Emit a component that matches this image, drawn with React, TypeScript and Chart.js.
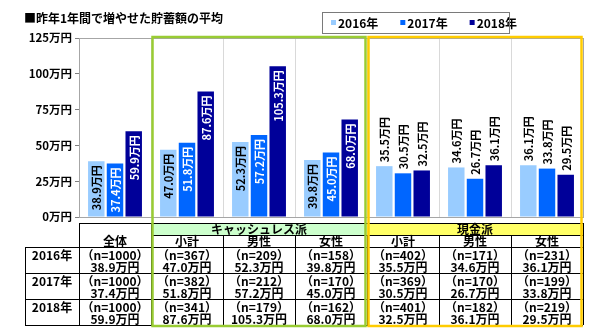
import { useEffect, useRef } from 'react';
import { Chart, registerables } from 'chart.js';

Chart.register(...registerables);

const titleText = '■昨年1年間で増やせた貯蓄額の平均';
const categories = ['全体', '小計', '男性', '女性', '小計', '男性', '女性'];
const groupOf = ['', 'キャッシュレス派', 'キャッシュレス派', 'キャッシュレス派', '現金派', '現金派', '現金派'];
const seriesNames = ['2016年', '2017年', '2018年'];
const values2016 = [38.9, 47.0, 52.3, 39.8, 35.5, 34.6, 36.1];
const values2017 = [37.4, 51.8, 57.2, 45.0, 30.5, 26.7, 33.8];
const values2018 = [59.9, 87.6, 105.3, 68.0, 32.5, 36.1, 29.5];
const n2016 = [1000, 367, 209, 158, 402, 171, 231];
const n2017 = [1000, 382, 212, 170, 369, 170, 199];
const n2018 = [1000, 341, 179, 162, 401, 182, 219];
const yMax = 125;
const yStep = 25;
const unit = '万円';

const seriesValues = [values2016, values2017, values2018];
const seriesCounts = [n2016, n2017, n2018];
const seriesColors = ['#99ccff', '#0066ff', '#000099'];
const insideLabelColors = ['#000000', '#ffffff', '#ffffff'];
const outsideLabelGroup = '現金派';
const groupStyles: Record<string, { fill: string; border: string }> = {
  'キャッシュレス派': { fill: '#ccffcc', border: '#99cc33' },
  '現金派': { fill: '#ffff66', border: '#ffcc00' },
};

const FF = '"Noto Sans CJK JP", "Noto Sans", sans-serif';
const W = 605;
const H = 336;

const fmt = (v: number) => v.toFixed(1) + unit;

const decorPlugin = {
  id: 'decor',
  afterDatasetsDraw(chart: any) {
    const ctx = chart.ctx;
    ctx.save();
    ctx.font = `bold 11px ${FF}`;
    ctx.textBaseline = 'middle';
    chart.data.datasets.forEach((ds: any, di: number) => {
      const meta = chart.getDatasetMeta(di);
      meta.data.forEach((bar: any, i: number) => {
        const text = fmt(ds.data[i]);
        const outside = groupOf[i] === outsideLabelGroup;
        ctx.save();
        if (outside) {
          ctx.translate(bar.x, bar.y - 4);
          ctx.rotate(-Math.PI / 2);
          ctx.textAlign = 'left';
          ctx.fillStyle = '#000';
        } else {
          ctx.translate(bar.x, bar.y + 4);
          ctx.rotate(-Math.PI / 2);
          ctx.textAlign = 'right';
          ctx.fillStyle = insideLabelColors[di];
        }
        ctx.fillText(text, 0, 1);
        ctx.restore();
      });
    });
    ctx.restore();
  },
  afterDraw(chart: any) {
    const ctx = chart.ctx;
    const area = chart.chartArea;
    const xs = chart.scales.x;
    const nCols = categories.length;
    const colW = (area.right - area.left) / nCols;
    const colL = (i: number) => xs.getPixelForValue(i) - colW / 2;
    const colR = (i: number) => xs.getPixelForValue(i) + colW / 2;
    const colC = (i: number) => xs.getPixelForValue(i);
    ctx.save();
    ctx.setLineDash([]);

    // plot border
    ctx.strokeStyle = '#a6a6a6';
    ctx.lineWidth = 1;
    ctx.strokeRect(area.left + 0.5, area.top + 0.5, area.right - area.left, area.bottom - area.top);

    // title
    ctx.fillStyle = '#000';
    ctx.font = `bold 12px ${FF}`;
    ctx.textAlign = 'left';
    ctx.textBaseline = 'middle';
    ctx.fillText(titleText, 24, 18);

    // legend entries
    ctx.font = `bold 12px ${FF}`;
    let lx = 331;
    seriesNames.forEach((name, i) => {
      ctx.fillStyle = seriesColors[i];
      ctx.fillRect(lx, 20, 5, 5);
      ctx.fillStyle = '#000';
      ctx.fillText(name, lx + 7, 23);
      lx += 7 + ctx.measureText(name).width + 22;
    });

    // table geometry
    const tLeft = 25;
    const hTop = 223;
    const gBot = 235;
    const hBot = 247;
    const rowH = 26;
    const tBot = hBot + rowH * seriesNames.length;

    // group header fills and texts
    const groupNames: string[] = [];
    groupOf.forEach((g) => { if (g && !groupNames.includes(g)) groupNames.push(g); });
    groupNames.forEach((g) => {
      const idx = groupOf.map((x, i) => (x === g ? i : -1)).filter((i) => i >= 0);
      const l = colL(idx[0]);
      const r = colR(idx[idx.length - 1]);
      ctx.fillStyle = groupStyles[g].fill;
      ctx.fillRect(l, hTop, r - l, gBot - hTop);
      ctx.fillStyle = '#000';
      ctx.font = `bold 12px ${FF}`;
      ctx.textAlign = 'center';
      ctx.fillText(g, (l + r) / 2, (hTop + gBot) / 2 + 0.5);
    });

    ctx.strokeStyle = '#000';
    ctx.lineWidth = 1;
    const hline = (x0: number, x1: number, y: number) => {
      ctx.beginPath();
      ctx.moveTo(x0, Math.round(y) + 0.5);
      ctx.lineTo(x1, Math.round(y) + 0.5);
      ctx.stroke();
    };
    const vline = (x: number, y0: number, y1: number) => {
      ctx.beginPath();
      ctx.moveTo(Math.round(x) + 0.5, y0);
      ctx.lineTo(Math.round(x) + 0.5, y1);
      ctx.stroke();
    };

    // header lines
    hline(colL(0), colR(nCols - 1), hTop);
    hline(colL(1), colR(nCols - 1), gBot);
    hline(tLeft, colR(nCols - 1), hBot);
    vline(colL(0), hTop, tBot);
    for (let i = 1; i < nCols; i++) vline(colL(i), gBot, tBot);
    vline(colR(0), hTop, gBot);
    vline(colR(nCols - 1), hTop, tBot);
    vline(tLeft, hBot, tBot);
    for (let r = 1; r <= seriesNames.length; r++) hline(tLeft, colR(nCols - 1), hBot + rowH * r);

    // header texts
    ctx.fillStyle = '#000';
    ctx.font = `bold 12px ${FF}`;
    ctx.textAlign = 'center';
    categories.forEach((c, i) => {
      ctx.fillText(c, colC(i), (gBot + hBot) / 2 + 0.5);
    });

    // rows
    seriesNames.forEach((name, r) => {
      const top = hBot + rowH * r;
      ctx.font = `bold 12px ${FF}`;
      ctx.fillText(name, (tLeft + colL(0)) / 2, top + 8);
      categories.forEach((_, i) => {
        ctx.font = `bold 12px ${FF}`;
        ctx.fillText(`（n=${seriesCounts[r][i]}）`, colC(i), top + 8.5);
        ctx.fillText(fmt(seriesValues[r][i]), colC(i), top + 20.5);
      });
    });

    // group boxes
    groupNames.forEach((g) => {
      const idx = groupOf.map((x, i) => (x === g ? i : -1)).filter((i) => i >= 0);
      const l = colL(idx[0]) + 1.5;
      const r = colR(idx[idx.length - 1]) - 1.5;
      ctx.strokeStyle = groupStyles[g].border;
      ctx.lineWidth = 2.5;
      ctx.strokeRect(l, area.top - 1, r - l, tBot + 1 - (area.top - 1));
    });

    ctx.restore();
  },
};

export default function App() {
  const ref = useRef<HTMLCanvasElement | null>(null);
  useEffect(() => {
    if (!ref.current) return;
    const chart = new Chart(ref.current, {
      type: 'bar',
      data: {
        labels: categories,
        datasets: seriesNames.map((name, i) => ({
          label: name,
          data: seriesValues[i],
          backgroundColor: seriesColors[i],
          borderWidth: 0,
          categoryPercentage: 0.78,
          barPercentage: 0.88,
        })),
      },
      options: {
        responsive: false,
        animation: false,
        devicePixelRatio: 1,
        layout: { padding: { left: 0, top: 38, right: 22, bottom: 119 } },
        plugins: { legend: { display: false }, tooltip: { enabled: false }, title: { display: false } },
        scales: {
          x: {
            display: true,
            ticks: { display: false },
            grid: { offset: true, color: '#d9d9d9', drawTicks: false, lineWidth: 1 },
            border: { display: false },
            afterFit: (s: any) => { s.height = 0; },
          },
          y: {
            min: 0,
            max: yMax,
            ticks: {
              stepSize: yStep,
              color: '#000',
              padding: 3,
              font: { family: FF, size: 11.5, weight: 'bold' },
              callback: (v: any) => `${v}${unit}`,
            },
            grid: { drawOnChartArea: false, drawTicks: true, tickLength: 4, color: '#808080' },
            border: { display: true, color: '#808080' },
            afterFit: (s: any) => { s.width = 79; },
          },
        },
      } as any,
      plugins: [decorPlugin],
    });
    return () => chart.destroy();
  }, []);
  return (
    <div style={{ position: 'fixed', left: 0, top: 0, width: W, height: H, background: '#fff' }}>
      <canvas ref={ref} width={W} height={H} style={{ width: W, height: H, display: 'block' }} />
      <div
        style={{
          position: 'absolute',
          left: 322,
          top: 12,
          width: 186,
          height: 20,
          border: '1px solid #7a7a7a',
          pointerEvents: 'none',
          boxSizing: 'content-box',
        }}
      />
    </div>
  );
}
